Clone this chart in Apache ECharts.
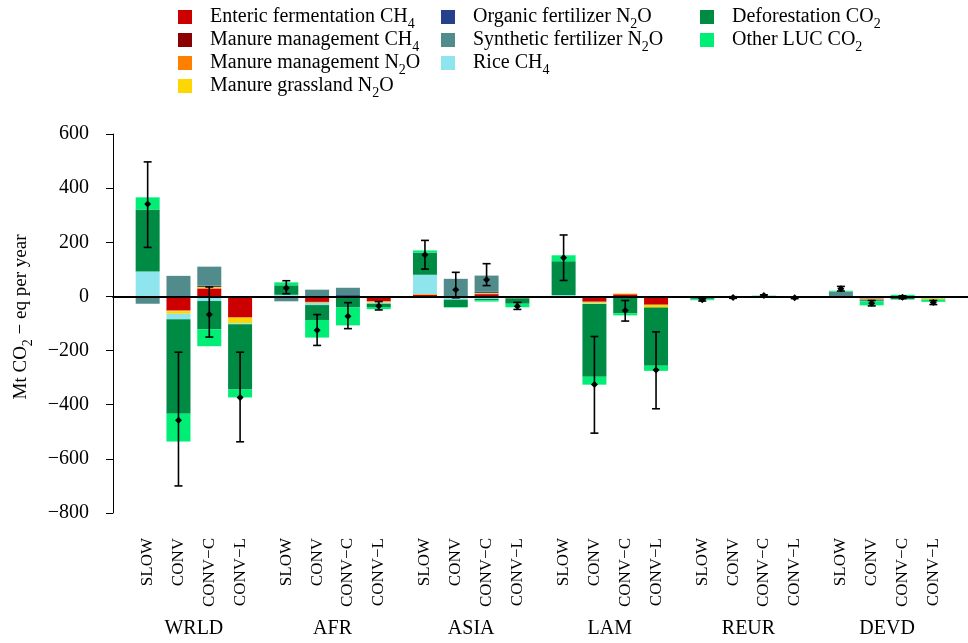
<!DOCTYPE html>
<html><head><meta charset="utf-8">
<script src="https://cdn.jsdelivr.net/npm/echarts/dist/echarts.min.js"></script>
<style>html,body{margin:0;padding:0;background:#fff}#c{width:968px;height:643px}</style>
</head><body><div id="c"></div>
<script>
// ---- data (order: region x scenario) ----
const regions = ['WRLD','AFR','ASIA','LAM','REUR','DEVD'];
const scenarios = ['SLOW','CONV','CONV\u2212C','CONV\u2212L'];
const seriesNames = ['Enteric fermentation CH4','Manure management CH4','Manure management N2O','Manure grassland N2O','Organic fertilizer N2O','Synthetic fertilizer N2O','Rice CH4','Deforestation CO2','Other LUC CO2'];
//                      WRLD                 AFR               ASIA              LAM                REUR          DEVD
const entericCH4   = [0,-52,28,-76,        0,-20,0,-18,      6,0,8,-4,         0,-19,8,-30,       0,0,0,0,      0,-5,0,-6];
const manureCH4    = [0,0,1,-2,            0,-1,0,-1,        1,0,2,0,          0,-1,0,-1,         0,0,0,0,      0,-2,0,-1];
const manureN2O    = [0,-3,2,0,            0,-2,0,0,         0,0,0,-3,         0,0,0,0,           0,0,0,0,      0,-2,0,0];
const grasslandN2O = [0,-9,4,-21,          0,-1,0,-4,        2,0,3,0,          0,-5,3,-10,        0,0,0,0,      0,-2,0,-4];
const organicN2O   = [0,0,5,0,             0,0,5,0,          0,0,4,0,          0,0,0,0,           0,0,0,0,      0,0,0,0];
const syntheticN2O = [-27,76,70,0,         -18,25,27,0,      0,65,60,0,        -3,0,0,0,          -10,0,0,0,    18,-7,0,0];
const riceCH4      = [92,-20,-17,-4,       6,-8,0,-4,        71,-12,-9,0,      5,-3,0,0,          0,0,0,0,      0,0,0,0];
const deforestCO2  = [229,-349,-104,-241,  35,-55,-41,-12,   82,-27,-5,-20,    125,-269,-62,-215, 0,-2,0,-2,    0,0,-11,0];
const otherLucCO2  = [45,-103,-63,-29,     11,-65,-66,-8,    8,-2,-5,-13,      22,-29,-8,-19,     -4,-2,3,-2,   3,-15,6,-9];
const errLow  = [181,-700,-150,-537,  10,-181,-119,-50,  101,-5,40,-48,   59,-505,-91,-415,  -17,-7,0,-8,  20,-35,-8,-30];
const errMid  = [341,-457,-67,-373,   31,-125,-73,-35,   154,25,62,-36,   143,-325,-52,-272, -12,-4,3,-5,  28,-25,-3,-22];
const errHigh = [497,-206,35,-206,    58,-67,-23,-19,    207,89,121,-22,  227,-148,-15,-131, -7,-1,6,-2,   37,-15,2,-15];
const yMin = -800, yMax = 600, yStep = 200;

const colors = ['#CD0000','#8B0000','#FF7F00','#FFD700','#27408B','#528B8B','#8EE5EE','#008B45','#00EE76'];
const allValues = [entericCH4,manureCH4,manureN2O,grasslandN2O,organicN2O,syntheticN2O,riceCH4,deforestCO2,otherLucCO2];

const F = 'Liberation Serif';
const nPer = scenarios.length;
const N = regions.length * nPer;
// quarter-slot category grid: bar k sits on category q(k)
const SUB = 4, LEAD = 4;
const slot = k => Math.floor(k / nPer) * (nPer + 0.5) + (k % nPer);
const q = k => LEAD + SUB * slot(k);
const NCAT = 111;
const cats = Array.from({length:NCAT}, (_, i) => String(i));
const fmtSub = s => s.replace(/([A-Z])(\d)/g, '$1{sub|$2}');
const subRich = {sub:{fontSize:14, padding:[14,0,0,0], fontFamily:F, color:'#000'}};

const barSeries = seriesNames.map((name, si) => ({
  name, type:'bar', stack:'total', barWidth:24, xAxisIndex:0,
  itemStyle:{color:colors[si]},
  data: allValues[si].map((v,k)=>[q(k), v]),
  animation:false
}));

const errSeries = {
  type:'custom', xAxisIndex:0, z:10, animation:false,
  encode:{x:0, y:[1,2,3]},
  data: errMid.map((m,k)=>[q(k), errLow[k], m, errHigh[k]]),
  renderItem(params, api){
    const x = api.value(0);
    const lo = api.coord([x, api.value(1)]);
    const mi = api.coord([x, api.value(2)]);
    const hi = api.coord([x, api.value(3)]);
    const cw = 4, r = 3.5;
    const st = {stroke:'#000', lineWidth:1.6, fill:null};
    return {type:'group', children:[
      {type:'line', shape:{x1:hi[0],y1:hi[1],x2:lo[0],y2:lo[1]}, style:st},
      {type:'line', shape:{x1:hi[0]-cw,y1:hi[1],x2:hi[0]+cw,y2:hi[1]}, style:st},
      {type:'line', shape:{x1:lo[0]-cw,y1:lo[1],x2:lo[0]+cw,y2:lo[1]}, style:st},
      {type:'polygon', shape:{points:[[mi[0],mi[1]-r],[mi[0]+r,mi[1]],[mi[0],mi[1]+r],[mi[0]-r,mi[1]]]}, style:{fill:'#000'}}
    ]};
  }
};

function scenLabel(v, idx){
  for (let k=0;k<N;k++) if (q(k) === idx) return scenarios[k%nPer];
  return '';
}
function regLabel(v, idx){
  for (let g=0; g<regions.length; g++) if (LEAD + SUB*(g*(nPer+0.5)+(nPer-1)/2) === idx) return regions[g];
  return '';
}

const legendBase = {
  orient:'vertical', icon:'rect', itemWidth:14, itemHeight:14, itemGap:-1, top:7, padding:0,
  selectedMode:false, formatter: fmtSub,
  textStyle:{fontFamily:F, fontSize:20, color:'#000', padding:[0,0,0,13], rich:subRich}
};
const hiddenCat = {type:'category', data:cats, position:'bottom', boundaryGap:true,
  axisLine:{show:false, onZero:false}, axisTick:{show:false}, splitLine:{show:false}};

const chart = echarts.init(document.getElementById('c'), null, {renderer:'canvas'});
chart.setOption({
  animation:false,
  backgroundColor:'#fff',
  textStyle:{fontFamily:F},
  legend:[
    Object.assign({}, legendBase, {left:178, data:seriesNames.slice(0,4)}),
    Object.assign({}, legendBase, {left:441, data:seriesNames.slice(4,7)}),
    Object.assign({}, legendBase, {left:700, data:seriesNames.slice(7,9)})
  ],
  grid:{left:113, right:0, top:134, bottom:130, containLabel:false, outerBoundsMode:'none'},
  xAxis:[
    {type:'category', data:cats, boundaryGap:true, z:6,
     axisLine:{show:true, onZero:true, lineStyle:{color:'#000', width:1.8}},
     axisTick:{show:false}, axisLabel:{show:false}, splitLine:{show:false}},
    Object.assign({}, hiddenCat, {axisLabel:{interval:0, rotate:90, margin:25, fontSize:17, fontFamily:F, color:'#000', formatter:scenLabel, hideOverlap:false}}),
    Object.assign({}, hiddenCat, {axisLabel:{interval:0, margin:106, fontSize:20, fontFamily:F, color:'#000', formatter:regLabel, hideOverlap:false}})
  ],
  yAxis:{
    type:'value', min:yMin, max:yMax, interval:yStep,
    axisLine:{show:true, onZero:false, lineStyle:{color:'#000', width:1}},
    axisTick:{show:true, length:7, lineStyle:{color:'#000'}},
    splitLine:{show:false},
    axisLabel:{margin:24, fontSize:20, fontFamily:F, color:'#000', formatter:v=> v<0 ? '\u2212'+Math.abs(v) : String(v)},
    name: fmtSub('Mt CO2 \u2212 eq per year'), nameLocation:'middle', nameGap:78,
    nameTextStyle:{fontSize:19, fontFamily:F, color:'#000', rich:subRich, padding:[0,0,0,13]}
  },
  series:[...barSeries, errSeries]
});
</script></body></html>
